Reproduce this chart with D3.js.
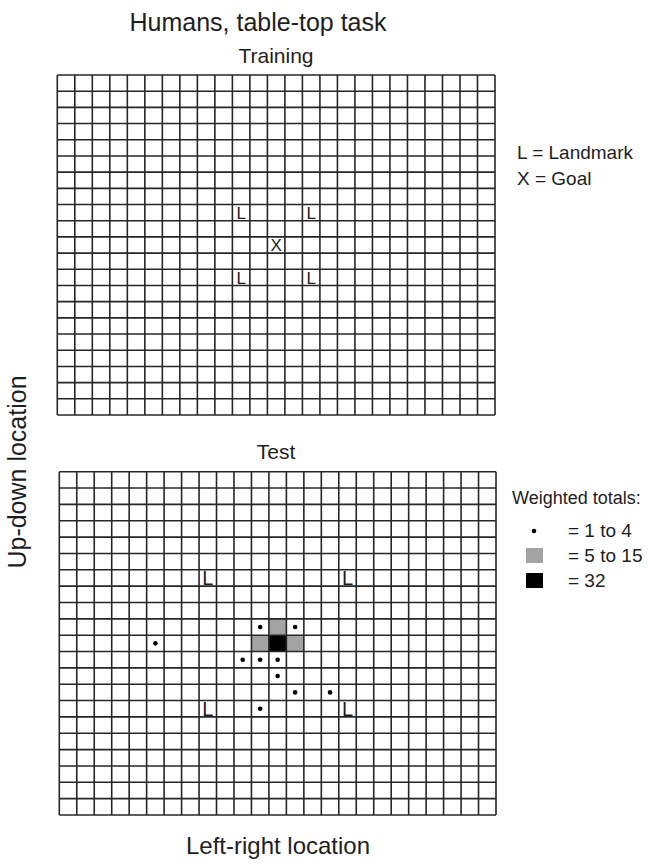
<!DOCTYPE html>
<html>
<head>
<meta charset="utf-8">
<script src="https://cdn.jsdelivr.net/npm/d3@7"></script>
<style>
  body { margin: 0; background: #fff; }
  svg text { font-family: "Liberation Sans", Arial, sans-serif; fill: #1e1e1e; }
</style>
</head>
<body>
<div id="chart"></div>
<script>
// Grid categories (25 left-right columns x 21 up-down rows)
const columns = d3.range(25);
const rows = d3.range(21);

// Training layout: [column, row]
const trainingLandmarks = [[10, 8], [14, 8], [10, 12], [14, 12]];
const trainingGoal = [[12, 10]];

// Test layout: landmarks spread out
const testLandmarks = [[8, 6], [16, 6], [8, 14], [16, 14]];

// Weighted totals of search per cell: [column, row, total]
const testTotals = [
  [12, 10, 32],
  [12, 9, 9], [11, 10, 7], [13, 10, 8],
  [11, 9, 2], [13, 9, 2], [5, 10, 1],
  [10, 11, 1], [11, 11, 2], [12, 11, 3],
  [12, 12, 2], [13, 13, 1], [15, 13, 1], [11, 14, 1]
];

const legendTop = ['L = Landmark', 'X = Goal'];
const legendBottom = [
  { kind: 'dot', label: '= 1 to 4' },
  { kind: 'mid', label: '= 5 to 15' },
  { kind: 'high', label: '= 32' }
];

const width = 652, height = 863;
const lineColor = '#262626';
const grey = '#a3a3a3';

const svg = d3.select('#chart').append('svg')
  .attr('width', width)
  .attr('height', height);

// Category of a weighted total
const category = v => v >= 16 ? 'high' : (v >= 5 ? 'mid' : 'dot');

// Draws one grid panel, returns its scales
const drawGrid = (box) => {
  const x = d3.scaleBand().domain(columns).range([box.x0, box.x1]);
  const y = d3.scaleBand().domain(rows).range([box.y0, box.y1]);
  const g = svg.append('g');

  // cell fills first so lines sit on top
  const fills = g.append('g');
  const lines = g.append('g')
    .attr('stroke', lineColor)
    .attr('stroke-width', 1.6)
    .attr('fill', 'none');

  lines.selectAll('.v')
    .data(columns.concat([columns.length]))
    .enter()
    .append('line')
    .attr('x1', d => d < columns.length ? x(d) : box.x1)
    .attr('x2', d => d < columns.length ? x(d) : box.x1)
    .attr('y1', box.y0)
    .attr('y2', box.y1);

  lines.selectAll('.h')
    .data(rows.concat([rows.length]))
    .enter()
    .append('line')
    .attr('y1', d => d < rows.length ? y(d) : box.y1)
    .attr('y2', d => d < rows.length ? y(d) : box.y1)
    .attr('x1', box.x0)
    .attr('x2', box.x1);

  return { g, fills, x, y };
};

// Title
svg.append('text')
  .attr('x', 258).attr('y', 31)
  .attr('text-anchor', 'middle')
  .attr('font-size', 25)
  .text('Humans, table-top task');

// ---- Training panel ----
svg.append('text')
  .attr('x', 276).attr('y', 63)
  .attr('text-anchor', 'middle')
  .attr('font-size', 21)
  .text('Training');

const trainPanel = drawGrid({ x0: 57.3, x1: 495, y0: 75, y1: 415 });

const markText = (panel, data, label, size) => {
  panel.g.selectAll(null)
    .data(data)
    .enter()
    .append('text')
    .attr('x', d => panel.x(d[0]) + panel.x.bandwidth() / 2)
    .attr('y', d => panel.y(d[1]) + panel.y.bandwidth() / 2)
    .attr('dy', '0.36em')
    .attr('text-anchor', 'middle')
    .attr('font-size', size)
    .text(label);
};

markText(trainPanel, trainingLandmarks, 'L', 17);
markText(trainPanel, trainingGoal, 'X', 17);

legendTop.forEach((t, i) => {
  svg.append('text')
    .attr('x', 517).attr('y', 159 + i * 26)
    .attr('font-size', 19)
    .text(t);
});

// ---- Test panel ----
svg.append('text')
  .attr('x', 276).attr('y', 459)
  .attr('text-anchor', 'middle')
  .attr('font-size', 21)
  .text('Test');

const testPanel = drawGrid({ x0: 59.3, x1: 496, y0: 471.7, y1: 815 });

markText(testPanel, testLandmarks, 'L', 20);

// square totals fill the cell
testPanel.fills.selectAll('rect')
  .data(testTotals.filter(d => category(d[2]) !== 'dot'))
  .enter()
  .append('rect')
  .attr('x', d => testPanel.x(d[0]))
  .attr('y', d => testPanel.y(d[1]))
  .attr('width', testPanel.x.bandwidth())
  .attr('height', testPanel.y.bandwidth())
  .attr('fill', d => category(d[2]) === 'high' ? '#000' : grey);

// small totals as dots
testPanel.g.selectAll('.dot')
  .data(testTotals.filter(d => category(d[2]) === 'dot'))
  .enter()
  .append('circle')
  .attr('class', 'dot')
  .attr('cx', d => testPanel.x(d[0]) + testPanel.x.bandwidth() / 2)
  .attr('cy', d => testPanel.y(d[1]) + testPanel.y.bandwidth() / 2)
  .attr('r', 2.3)
  .attr('fill', '#000');

// Legend for weighted totals
svg.append('text')
  .attr('x', 512).attr('y', 504)
  .attr('font-size', 18)
  .text('Weighted totals:');

legendBottom.forEach((d, i) => {
  const cy = 531 + i * 25;
  if (d.kind === 'dot') {
    svg.append('circle')
      .attr('cx', 534).attr('cy', cy).attr('r', 2.3).attr('fill', '#000');
  } else {
    svg.append('rect')
      .attr('x', 526).attr('y', cy - 8)
      .attr('width', 17).attr('height', 15)
      .attr('fill', d.kind === 'high' ? '#000' : grey);
  }
  svg.append('text')
    .attr('x', 568).attr('y', cy + 6)
    .attr('font-size', 19)
    .text(d.label);
});

// Axis titles
svg.append('text')
  .attr('transform', 'translate(26,472) rotate(-90)')
  .attr('text-anchor', 'middle')
  .attr('font-size', 25)
  .text('Up-down location');

svg.append('text')
  .attr('x', 278).attr('y', 854)
  .attr('text-anchor', 'middle')
  .attr('font-size', 24)
  .text('Left-right location');
</script>
</body>
</html>
